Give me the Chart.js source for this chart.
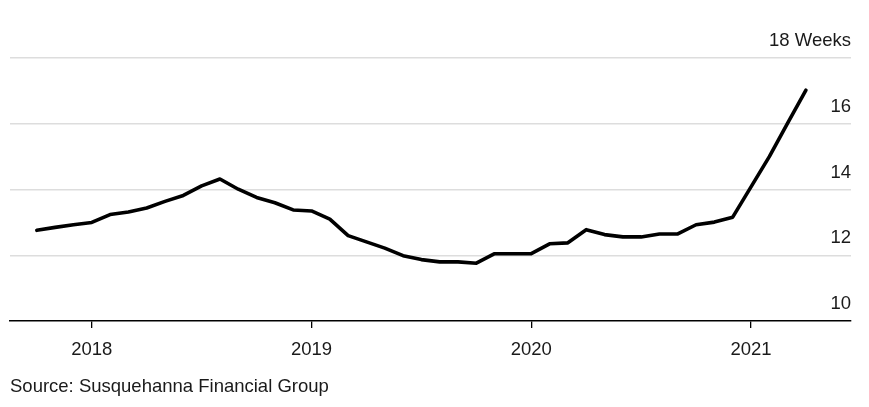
<!DOCTYPE html>
<html>
<head>
<meta charset="utf-8">
<script src="https://cdn.jsdelivr.net/npm/chart.js@4.4.0/dist/chart.umd.min.js"></script>
<style>
  html, body { margin: 0; padding: 0; background: #fff; }
  #wrap { position: relative; width: 869px; height: 407px; }
  #source {
    position: absolute; left: 10px; top: 375px;
    font: 18.5px "Liberation Sans", Arial, sans-serif; color: #1a1a1a;
  }
</style>
</head>
<body>
<div id="wrap">
  <canvas id="chart" width="869" height="407"></canvas>
  <div id="source">Source: Susquehanna Financial Group</div>
</div>
<script>
// monthly readings, Oct 2017 - Apr 2021
const months = [
  "2017-10", "2017-11", "2017-12",
  "2018-01", "2018-02", "2018-03", "2018-04", "2018-05", "2018-06",
  "2018-07", "2018-08", "2018-09", "2018-10", "2018-11", "2018-12",
  "2019-01", "2019-02", "2019-03", "2019-04", "2019-05", "2019-06",
  "2019-07", "2019-08", "2019-09", "2019-10", "2019-11", "2019-12",
  "2020-01", "2020-02", "2020-03", "2020-04", "2020-05", "2020-06",
  "2020-07", "2020-08", "2020-09", "2020-10", "2020-11", "2020-12",
  "2021-01", "2021-02", "2021-03", "2021-04"
];
const weeks = [
  12.76, 12.85, 12.93,
  13.00, 13.24, 13.32, 13.44, 13.64, 13.82,
  14.11, 14.32, 14.01, 13.76, 13.60, 13.38,
  13.35, 13.10, 12.60, 12.41, 12.22, 11.99,
  11.87, 11.80, 11.80, 11.76, 12.05, 12.05,
  12.05, 12.35, 12.38, 12.78, 12.63, 12.56,
  12.56, 12.65, 12.65, 12.93, 13.01, 13.16,
  14.08, 15.00, 16.02, 17.02
];
const yearTicks = [2018, 2019, 2020, 2021];
const yTicks = [10, 12, 14, 16, 18];

const points = months.map((m, i) => {
    const [yr, mo] = m.split("-").map(Number);
    return { x: yr + (mo - 1) / 12, y: weeks[i] };
});

const font = { family: "'Liberation Sans', Arial, sans-serif", size: 18.5 };

new Chart(document.getElementById("chart"), {
    type: "line",
    data: {
        datasets: [{
            data: points,
            borderColor: "#000",
            borderWidth: 3.6,
            borderJoinStyle: "round",
            borderCapStyle: "round",
            pointRadius: 0,
            tension: 0
        }]
    },
    options: {
        responsive: false,
        animation: false,
        layout: { padding: { top: 58, left: 10, right: 18, bottom: 34.7 } },
        plugins: {
            legend: { display: false },
            tooltip: { enabled: false }
        },
        scales: {
            x: {
                type: "linear",
                min: 2017.628,
                max: 2021.455,
                afterBuildTicks: scale => {
                    scale.ticks = yearTicks.map(v => ({ value: v }));
                },
                ticks: {
                    autoSkip: false,
                    maxRotation: 0,
                    padding: 11,
                    color: "#1a1a1a",
                    font: font,
                    callback: v => String(v)
                },
                grid: {
                    drawOnChartArea: false,
                    drawTicks: true,
                    tickLength: 7,
                    color: "#000",
                    lineWidth: 1.3
                },
                border: { display: true, color: "#000", width: 1.5 }
            },
            y: {
                position: "right",
                min: 10,
                max: 18,
                afterBuildTicks: scale => {
                    scale.ticks = yTicks.map(v => ({ value: v }));
                },
                ticks: {
                    mirror: true,
                    padding: 0,
                    labelOffset: -17,
                    color: "#1a1a1a",
                    font: font,
                    callback: v => v === 18 ? "18 Weeks" : String(v)
                },
                grid: {
                    drawTicks: false,
                    color: ctx => ctx.tick && ctx.tick.value === 10 ? "rgba(0,0,0,0)" : "#dddddd",
                    lineWidth: 1.5
                },
                border: { display: false }
            }
        }
    }
});
</script>
</body>
</html>
